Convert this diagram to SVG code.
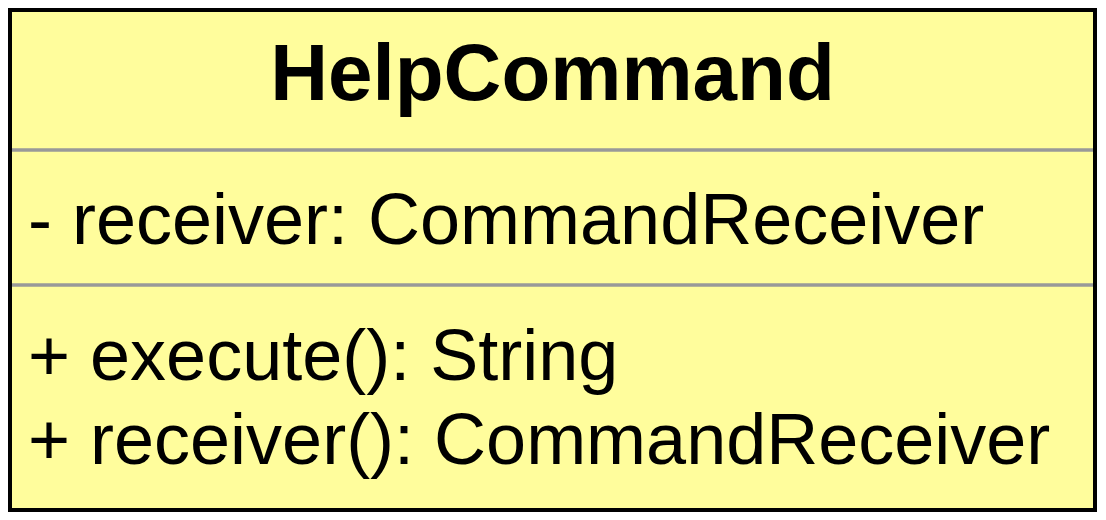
<svg xmlns="http://www.w3.org/2000/svg" width="1106" height="520" viewBox="0 0 1106 520">
<style>
.t{font-family:"Liberation Sans",Arial,sans-serif;fill:#000}
.title{font-size:80px;font-weight:bold}
.m{font-size:72px}
.div{stroke:#999;stroke-width:3.5}
</style>
<rect width="1106" height="520" fill="#fff"/>
<g id="HelpCommand">
<rect x="10" y="10" width="1085" height="500" fill="#FFFD9C" stroke="#000" stroke-width="4"/>
<line class="div" x1="12" y1="150" x2="1093" y2="150"/>
<line class="div" x1="12" y1="285" x2="1093" y2="285"/>
<text class="t title" x="552.5" y="100" text-anchor="middle">HelpCommand</text>
<text class="t m" x="28" y="244">- receiver: CommandReceiver</text>
<text class="t m" x="28" y="380">+ execute(): String</text>
<text class="t m" x="28" y="464">+ receiver(): CommandReceiver</text>
</g>
<g id="connectors"/>
</svg>
